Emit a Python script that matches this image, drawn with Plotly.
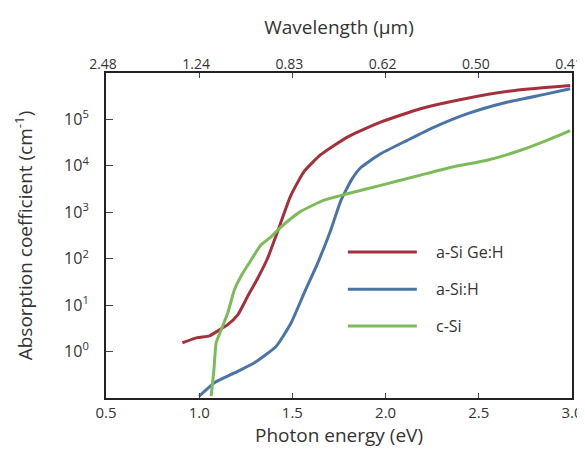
import plotly.graph_objects as go

# a-SiGe:H
red_x = [0.91, 0.99, 1.055, 1.11, 1.153, 1.207, 1.26, 1.314, 1.367, 1.42, 1.49, 1.563, 1.652, 1.795, 1.973, 2.187, 2.419, 2.686, 2.99]
red_log = [0.19, 0.30, 0.34, 0.47, 0.58, 0.79, 1.19, 1.58, 2.01, 2.58, 3.35, 3.88, 4.24, 4.62, 4.94, 5.23, 5.44, 5.62, 5.73]
# a-Si:H
blue_x = [1.0, 1.082, 1.189, 1.296, 1.412, 1.492, 1.563, 1.635, 1.706, 1.76, 1.82, 1.866, 1.973, 2.116, 2.258, 2.436, 2.65, 2.865, 2.99]
blue_log = [-0.96, -0.67, -0.46, -0.24, 0.11, 0.61, 1.26, 1.90, 2.62, 3.25, 3.72, 3.96, 4.26, 4.55, 4.83, 5.12, 5.37, 5.55, 5.66]
# c-Si
green_x = [1.064, 1.079, 1.091, 1.118, 1.153, 1.189, 1.234, 1.278, 1.332, 1.385, 1.438, 1.545, 1.67, 1.795, 1.973, 2.187, 2.365, 2.544, 2.72, 2.865, 2.99]
green_log = [-0.96, -0.39, 0.19, 0.47, 0.83, 1.33, 1.69, 1.97, 2.30, 2.47, 2.68, 3.02, 3.26, 3.40, 3.58, 3.80, 3.98, 4.12, 4.33, 4.55, 4.76]

names = ["a-Si Ge:H", "a-Si:H", "c-Si"]
colors = ["#a3303a", "#4b74a6", "#7dbb5a"]

energy_ticks = [0.5, 1.0, 1.5, 2.0, 2.5, 3.0]
energy_text = ["0.5", "1.0", "1.5", "2.0", "2.5", "3.0"]
wl_text = ["2.48", "1.24", "0.83", "0.62", "0.50", "0.41"]
y_tickvals = [1, 10, 100, 1e3, 1e4, 1e5]
y_ticktext = ["10<sup>0</sup>", "10<sup>1</sup>", "10<sup>2</sup>", "10<sup>3</sup>", "10<sup>4</sup>", "10<sup>5</sup>"]

FONT = "Open Sans"
TXT = "#333333"
fig = go.Figure()
series = [(red_x, red_log), (blue_x, blue_log), (green_x, green_log)]
for (xs, ls), nm, c in zip(series, names, colors):
    fig.add_trace(go.Scatter(x=xs, y=[10 ** v for v in ls], mode="lines", name=nm,
                             showlegend=False,
                             line=dict(color=c, width=3, shape="spline", smoothing=0.5)))

# invisible trace for top axis
fig.add_trace(go.Scatter(x=[0.5, 3.0], y=[1, 1], xaxis="x2", mode="lines",
                         line=dict(width=0), showlegend=False, hoverinfo="skip"))

# manual legend (paper coordinates)
leg_y = [0.449, 0.335, 0.2215]
for nm, c, yy in zip(names, colors, leg_y):
    fig.add_shape(type="line", xref="paper", yref="paper", x0=0.519, x1=0.667, y0=yy, y1=yy,
                  line=dict(color=c, width=3))
    fig.add_annotation(xref="paper", yref="paper", x=0.703, y=yy, text=nm, showarrow=False,
                       xanchor="left", yanchor="middle", font=dict(size=16, color=TXT, family=FONT))

# the page body adds an 8px margin; compensate so the plot lands where the reference has it
fig.update_layout(
    width=585, height=452,
    margin=dict(l=98, r=21, t=65, b=62),
    paper_bgcolor="white", plot_bgcolor="white",
    font=dict(family=FONT, size=15, color=TXT),
    xaxis=dict(range=[0.5, 3.0], tickvals=energy_ticks, ticktext=energy_text,
               ticks="inside", ticklen=5, tickcolor="#444", tickwidth=1,
               ticklabeloverflow="allow",
               showline=True, linecolor="#222", linewidth=2, mirror=True,
               showgrid=False, zeroline=False, automargin=False,
               title=dict(text="Photon energy (eV)", font=dict(size=19), standoff=6)),
    xaxis2=dict(range=[0.5, 3.0], overlaying="x", side="top", tickvals=energy_ticks,
                ticktext=wl_text, ticks="inside", ticklen=5, tickcolor="#444",
                tickfont=dict(size=14),
                ticklabeloverflow="allow", ticklabelshift=-3,
                showline=False, showgrid=False, zeroline=False, automargin=False,
                title=dict(text="Wavelength (μm)", font=dict(size=19), standoff=14)),
    yaxis=dict(type="log", range=[-1, 6], tickvals=y_tickvals, ticktext=y_ticktext,
               ticks="inside", ticklen=7, tickcolor="#444", ticklabelstandoff=12,
               tickfont=dict(size=16),
               showline=True, linecolor="#222", linewidth=2, mirror=True,
               showgrid=False, zeroline=False, automargin=False,
               title=dict(text="Absorption coefficient (cm<sup>-1</sup>)", font=dict(size=19), standoff=26)),
    showlegend=False,
)

fig.write_html("out.html")
